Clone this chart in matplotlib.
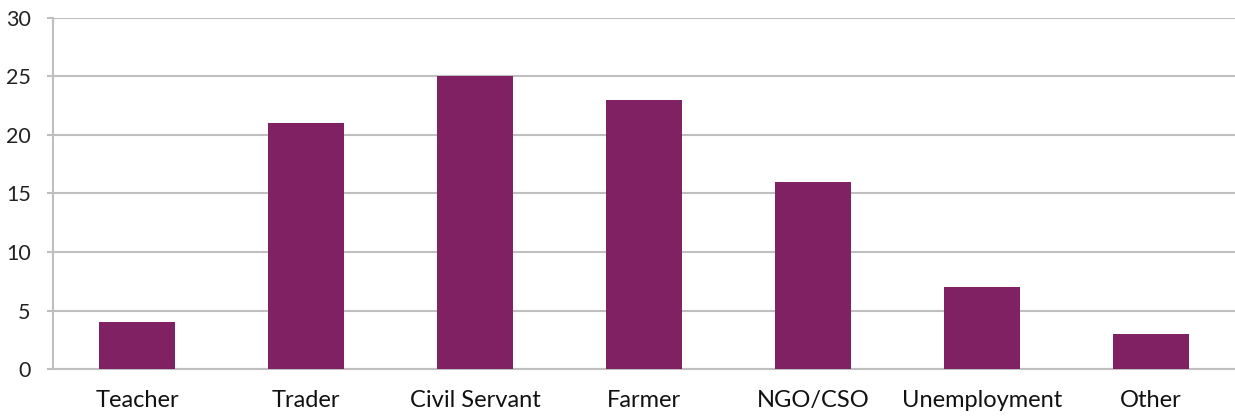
import matplotlib
matplotlib.use("Agg")
import matplotlib.pyplot as plt

# =========================
# DATA
# =========================
categories = ["Teacher", "Trader", "Civil Servant", "Farmer", "NGO/CSO", "Unemployment", "Other"]
values = [4, 21, 25, 23, 16, 7, 3]
y_ticks = [0, 5, 10, 15, 20, 25, 30]

BAR_COLOR = "#7F2163"
GRID_COLOR = "#BFBFBF"

plt.rcParams["font.family"] = ["Lato", "DejaVu Sans"]

fig = plt.figure(figsize=(12.35, 4.17), dpi=100)
ax = fig.add_axes([0.0429, 0.115, 0.9571, 0.842])

x = list(range(len(categories)))
ax.bar(x, values, width=0.45, color=BAR_COLOR, zorder=3)

ax.set_xlim(-0.5, len(categories) - 0.5)
ax.set_ylim(0, 30)
ax.set_yticks(y_ticks)
ax.set_xticks(x)
ax.set_xticklabels(categories)

ax.yaxis.grid(True, color=GRID_COLOR, linewidth=1.5, zorder=0)
for side in ["top", "right"]:
    ax.spines[side].set_visible(False)
ax.spines["left"].set_color(GRID_COLOR)
ax.spines["left"].set_linewidth(1.5)
ax.spines["bottom"].set_color(GRID_COLOR)
ax.spines["bottom"].set_linewidth(1.5)

ax.tick_params(axis="y", length=4, width=1.5, color=GRID_COLOR, pad=12, labelsize=15.5, labelcolor="#222222")
ax.tick_params(axis="x", length=0, pad=15, labelsize=17, labelcolor="#111111")

fig.savefig("out.png", dpi=100)
